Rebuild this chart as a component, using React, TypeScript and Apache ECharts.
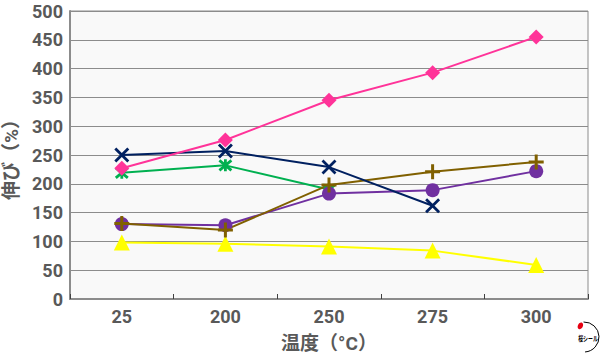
import React, { useEffect, useRef } from "react";
import * as echarts from "echarts";

const categories = ["25", "200", "250", "275", "300"];
const pinkDiamond = [227, 276, 345, 393, 455];
const navyCross = [250, 257, 229, 162, null];
const greenStar = [219, 232, 190, null, null];
const purpleCircle = [130, 128, 183, 189, 222];
const brownPlus = [131, 120, 198, 221, 238];
const yellowTri = [98, 96, 91, 84, 59];

const X_PATH = "path://M0,0L10,10M10,0L0,10";
const STAR_PATH = "path://M0,0L10,10M10,0L0,10M5,-1L5,11";
const PLUS_PATH = "path://M4,0L6,0L6,4L10,4L10,6L6,6L6,10L4,10L4,6L0,6L0,4L4,4Z";

export default function App() {
  const ref = useRef<HTMLDivElement>(null);
  useEffect(() => {
    if (!ref.current) return;
    const chart = echarts.init(ref.current, null, { renderer: "svg" });
    const font = "Roboto, 'Noto Sans CJK JP', sans-serif";
    const cjk = "'Noto Sans CJK JP', sans-serif";
    const mk = (name: string, data: any[], color: string, symbol: string, size: number, stroke = false) => ({
      name,
      type: "line",
      data,
      symbol,
      symbolSize: size,
      connectNulls: false,
      lineStyle: { color, width: 2 },
      itemStyle: stroke
        ? { color: "transparent", borderColor: color, borderWidth: 2.8 }
        : { color, borderWidth: 0 },
      z: 3,
    });
    chart.setOption({
      animation: false,
      backgroundColor: "#ffffff",
      grid: {
        left: 70,
        right: 12,
        top: 11,
        bottom: 58,
        outerBoundsMode: "none",
        containLabel: false,
        show: true,
        backgroundColor: "#f9f9f9",
        borderColor: "#8c8c8c",
        borderWidth: 1,
      },
      xAxis: {
        type: "category",
        data: categories,
        boundaryGap: true,
        name: "温度（°C）",
        nameLocation: "middle",
        nameGap: 35,
        nameTextStyle: { fontSize: 19, fontWeight: "bold", color: "#595959", fontFamily: font },
        axisLine: { lineStyle: { color: "#8c8c8c", width: 2 } },
        axisTick: { show: true, inside: true, length: 5, lineStyle: { color: "#404040" } },
        axisLabel: { fontSize: 18, fontWeight: "bold", color: "#595959", margin: 8, fontFamily: font },
      },
      yAxis: {
        type: "value",
        min: 0,
        max: 500,
        interval: 50,
        name: "伸び（%）",
        nameLocation: "middle",
        nameGap: 48,
        nameTextStyle: { fontSize: 19, fontWeight: "bold", color: "#595959", fontFamily: font },
        axisLine: { show: true, lineStyle: { color: "#8c8c8c", width: 2 } },
        axisTick: { show: false },
        axisLabel: { fontSize: 18, fontWeight: "bold", color: "#595959", margin: 7, fontFamily: font },
        splitLine: { lineStyle: { color: "#8c8c8c", width: 1 } },
      },
      series: [
        mk("a", yellowTri, "#ffff00", "triangle", 16),
        mk("b", greenStar, "#00b050", STAR_PATH, 12, true),
        mk("c", purpleCircle, "#7030a0", "circle", 14),
        mk("d", brownPlus, "#806000", PLUS_PATH, 15),
        mk("e", navyCross, "#002060", X_PATH, 13, true),
        mk("f", pinkDiamond, "#ff3399", "diamond", 15),
      ],
      graphic: [
        {
          type: "arc",
          shape: { cx: 584, cy: 337, r: 15, startAngle: -1.6, endAngle: 1.5 },
          style: { stroke: "#000", lineWidth: 1, fill: "none" },
        },
        {
          type: "ellipse",
          shape: { cx: 580, cy: 326, rx: 2.5, ry: 3.5 },
          rotation: -0.5,
          originX: 580,
          originY: 326,
          style: { fill: "#e60012" },
        },
        {
          type: "text",
          x: 588,
          y: 338,
          scaleX: 0.7,
          z: 10,
          style: {
            text: "桜シール",
            fontSize: 7,
            fontWeight: "bold",
            fill: "#000",
            align: "center",
            verticalAlign: "middle",
            fontFamily: cjk,
          },
        },
      ],
    });
    return () => chart.dispose();
  }, []);
  return <div ref={ref} style={{ width: 600, height: 357, position: "absolute", left: 0, top: 0 }} />;
}
